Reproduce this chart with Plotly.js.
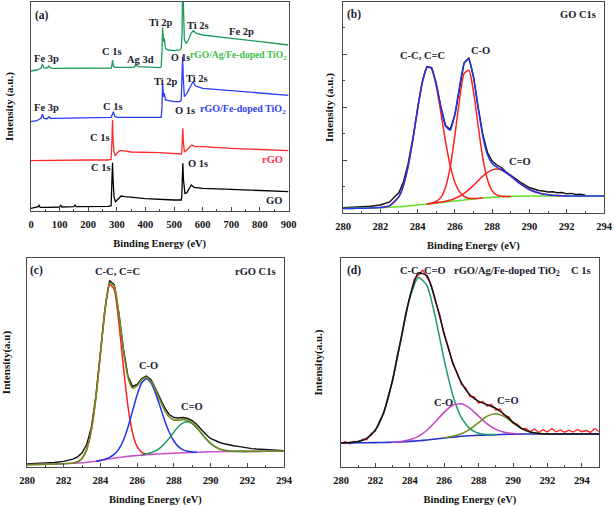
<!DOCTYPE html>
<html>
<head>
<meta charset="utf-8">
<script src="https://cdn.plot.ly/plotly-3.0.1.min.js"></script>
<style>html,body{margin:0;padding:0;background:#fff}#chart{width:614px;height:507px}</style>
</head>
<body>
<div id="chart"></div>
<script>
// ---------- Panel (a): XPS survey spectra ----------
const surveyGO_x = [0,10,25,28,32,60,100,104,108,150,154,158,200,270,280,283,285,287,290,295,300,315,330,400,500,525,527,529,530.5,533,538,545,555,560,570,600,700,800,900];
const surveyGO_y = [2.7,3.3,4.3,5.7,3.7,3.7,4.0,6.0,4.0,4.3,6.3,4.3,4.3,4.7,5.3,24.3,48.3,31.0,14.3,9.3,11.0,15.0,14.3,12.3,11.0,11.0,14.3,37.7,47.7,31.0,17.7,18.3,23.7,26.0,23.7,22.7,21.7,20.3,19.3];
const surveyRGO_x = [0,100,200,270,280,283,285,287,290,295,300,310,320,350,450,525,527,529,530.5,533,536,542,555,562,575,600,700,800,900];
const surveyRGO_y = [50.3,51.0,51.0,51.0,51.7,71.0,91.0,71.0,59.3,55.0,57.7,60.3,60.3,59.0,58.3,57.0,59.3,71.0,82.7,67.7,59.3,60.3,64.3,66.0,64.3,64.3,62.7,61.7,60.3];
const surveyFeTi_x = [0,20,35,40,45,55,63,68,80,150,280,285,288,292,300,400,455,458,460,463,466,470,480,500,520,525,528,530,532,536,545,555,566,575,590,600,700,800,900];
const surveyFeTi_y = [89.3,90.3,92.7,96.7,92.7,92.0,94.3,92.7,92.7,93.3,93.7,97.0,99.3,95.0,93.7,93.7,93.7,104.0,127.7,114.3,117.7,111.0,110.3,109.3,109.3,111.0,137.7,154.3,134.3,114.3,117.7,122.7,129.3,125.0,123.7,122.7,120.3,117.7,115.7];
const surveyAgFeTi_x = [0,20,35,40,45,55,63,68,80,200,280,283,285,288,292,360,365,368,372,375,450,455,458,460,463,466,470,480,500,520,525,528,530,532,536,542,550,560,567,578,600,700,800,900];
const surveyAgFeTi_y = [140.0,141.0,142.7,146.7,143.3,142.7,145.0,143.0,142.7,142.7,143.0,146.0,151.0,145.0,143.7,143.7,145.0,146.0,145.0,144.3,143.3,144.3,161.0,183.7,169.3,172.7,162.7,161.0,160.3,161.0,162.7,178.0,235.0,200.0,171.0,167.7,171.0,177.7,180.3,177.7,176.0,172.7,169.3,166.0];
const surveyNames = ['GO','rGO','rGO/Fe-doped TiO<sub>2</sub>','rGO/Ag/Fe-doped TiO<sub>2</sub>'];

// ---------- Panel (b): GO C1s ----------
const goC1s_x = [280,280.5,281,281.5,282,282.5,283,283.25,283.5,283.75,284,284.25,284.5,284.75,285,285.25,285.5,285.75,286,286.25,286.5,286.75,287,287.25,287.5,287.75,288,288.25,288.5,289,289.5,290,290.5,291,291.5,292,293,294];
const goC1s_bg = [4.5,4.6,4.8,5.0,5.3,5.7,6.2,6.6,7.0,7.5,8.0,8.5,9.0,9.5,10.0,10.5,11.0,11.5,12.0,12.5,13.0,13.5,14.0,14.5,15.0,15.4,15.7,16.0,16.2,16.6,16.8,17.0,17.0,17.0,17.0,17.0,17.0,17.0];
const goC1s_fit = [4.5,4.6,4.8,5.0,5.5,7.3,16.4,28.2,47.3,73.6,103.7,130.4,145.7,144.9,128.9,105.7,86.9,83.1,98.6,126.2,149.7,153.7,135.3,104.8,76.7,58.2,49.6,45.9,43.5,36.9,29.3,23.5,20.0,18.2,17.4,17.1,17.0,17.0];
const goRaw_x = [280,280.5,281,281.5,282,282.5,283,283.25,283.5,283.75,284,284.25,284.5,284.75,285,285.25,285.5,285.75,286,286.25,286.5,286.75,287,287.25,287.5,287.75,288,288.25,288.5,288.75,289,289.25,289.5,289.75,290,290.25,290.5,290.75,291,291.25,291.5,291.75,292,292.25,292.5,292.75,293];
const goRaw_y = [5.2,5.5,6.0,6.8,8.0,11.0,20.5,31.5,50.0,75.0,104.5,131.0,146.5,145.5,129.5,106.0,87.5,83.5,98.0,126.5,150.5,155.0,136.5,106.0,78.5,60.5,52.0,48.0,45.5,41.0,38.0,34.5,31.0,28.0,25.5,24.0,22.5,22.0,21.0,21.2,20.2,20.5,19.2,19.6,18.5,18.8,17.8];
const goCC_x = [282,282.5,283,283.25,283.5,283.75,284,284.25,284.5,284.75,285,285.25,285.5,285.75,286,286.25,286.5,286.75,287,287.5];
const goCC_y = [5.4,7.2,16.3,28.1,47.2,73.5,103.6,130.3,145.6,144.4,127.2,100.2,71.4,47.3,30.7,21.1,16.5,14.7,14.4,15.0];
const goCO_x = [284.5,284.75,285,285.25,285.5,285.75,286,286.25,286.5,286.75,287,287.25,287.5,287.75,288,288.25,288.5,289];
const goCO_y = [9.0,9.8,11.5,15.6,25.8,45.9,77.4,113.4,139.6,142.7,121.3,87.0,54.8,33.2,22.2,17.9,16.7,16.6];
const goCdO_x = [284.5,285,285.5,286,286.5,287,287.5,288,288.25,288.5,289,289.5,290,290.5,291,291.5,292];
const goCdO_y = [9.1,10.2,11.7,14.5,19.6,27.6,36.9,43.1,44.0,43.0,36.9,29.3,23.5,20.0,18.2,17.4,17.1];

// ---------- Panel (c): rGO C1s ----------
const rgoC1s_x = [280,280.5,281,281.5,282,282.5,282.75,283,283.25,283.5,283.75,284,284.25,284.5,284.75,285,285.25,285.5,285.75,286,286.25,286.5,286.75,287,287.25,287.5,287.75,288,288.25,288.5,288.75,289,289.25,289.5,289.75,290,290.5,291,292,293,294];
const rgoC1s_bg = [2.3,2.5,2.7,3.0,3.3,3.7,3.95,4.2,4.7,5.2,5.8,6.6,7.4,8.2,8.9,9.5,10.1,10.6,11.1,11.5,11.9,12.3,12.6,12.9,13.2,13.4,13.6,13.8,14.0,14.2,14.4,14.6,14.75,14.9,15.05,15.2,15.4,15.5,15.6,15.7,15.7];
const rgoC1s_fit = [2.3,2.5,2.7,3.0,3.3,4.0,5.2,8.5,17.4,36.3,69.0,113.5,157.6,184.0,181.2,153.3,117.0,89.7,78.9,81.1,87.3,89.6,85.7,77.1,66.5,56.7,50.0,47.1,46.9,47.2,46.6,44.0,39.4,33.7,28.2,23.5,17.9,16.0,15.6,15.7,15.7];
const rgoRaw_x = [280,280.5,281,281.5,282,282.5,282.75,283,283.25,283.5,283.75,284,284.25,284.5,284.75,285,285.25,285.5,285.75,286,286.25,286.5,286.75,287,287.25,287.5,287.75,288,288.25,288.5,288.75,289,289.25,289.5,289.75,290,290.25,290.5,290.75,291,291.25,291.5,291.75,292,292.25,292.5,292.75,293,293.25,293.5,293.75,294];
const rgoRaw_y = [3.0,3.3,3.8,4.5,5.6,7.8,10.0,14.2,22.5,39.0,70.5,114.0,158.5,186.5,182.5,154.5,118.5,91.0,80.5,82.5,88.5,91.0,87.5,78.5,68.5,59.0,52.5,49.5,49.0,49.5,48.5,46.5,42.5,37.0,32.5,28.5,26.2,24.5,23.2,22.0,21.3,20.6,19.7,19.2,18.4,18.0,17.6,17.2,16.9,16.6,16.5,16.3];
const rgoCC_x = [282.5,282.75,283,283.25,283.5,283.75,284,284.25,284.5,284.75,285,285.25,285.5,285.75,286,286.25,286.5];
const rgoCC_y = [4.0,5.15,8.5,17.4,36.3,69.0,113.4,157.1,182.5,177.5,144.9,100.4,60.6,34.1,20.3,14.7,13.0];
const rgoCO_x = [283.75,284,284.25,284.5,284.75,285,285.25,285.5,285.75,286,286.25,286.5,286.75,287,287.25,287.5,287.75,288,288.25,288.5,288.75,289,289.25];
const rgoCO_y = [5.8,6.6,7.9,9.7,12.6,17.9,26.7,39.7,55.9,72.2,84.2,88.2,84.1,73.9,60.5,46.6,34.7,26.0,20.4,17.2,15.7,15.1,14.8];
const rgoCdO_x = [286.25,286.5,286.75,287,287.25,287.5,287.75,288,288.25,288.5,288.75,289,289.25,289.5,289.75,290,290.5,291,292];
const rgoCdO_y = [12.2,13.0,14.2,16.1,19.2,23.5,28.9,34.9,40.5,44.2,45.3,43.5,39.25,33.7,28.15,23.5,17.9,16.0,15.6];

// ---------- Panel (d): rGO/Ag/Fe-doped TiO2 C 1s ----------
const agC1s_x = [280,280.5,281,281.5,282,282.5,283,283.5,284,284.5,285,285.5,286,286.5,287,287.5,288,288.5,289,289.5,290,290.5,291,291.5,292,293,294,295];
const agC1s_bg = [24.0,24.1,24.2,24.3,24.4,24.5,24.7,25.1,25.6,26.2,27.0,28.0,29.0,29.9,30.7,31.3,31.7,32.0,32.3,32.6,32.8,32.9,33.0,33.0,33.0,33.0,33.0,33.0];
const agC1s_fit = [24.0,24.4,25.4,28.6,37.1,55.5,87.1,129.4,170.4,194.1,191.1,166.1,133.3,104.5,84.4,72.1,65.6,62.4,58.7,52.5,44.9,38.6,35.0,33.6,33.1,33.0,33.0,33.0];
const agRaw_x = [280,280.25,280.5,280.75,281,281.25,281.5,281.75,282,282.25,282.5,282.75,283,283.25,283.5,283.75,284,284.25,284.5,284.75,285,285.25,285.5,285.75,286,286.25,286.5,286.75,287,287.25,287.5,287.75,288,288.25,288.5,288.75,289,289.25,289.5,289.75,290,290.25,290.5,290.75,291,291.25,291.5,291.75,292,292.25,292.5,292.75,293,293.25,293.5,293.75,294,294.25,294.5,294.75,295];
const agRaw_y = [23.5,25.5,23.0,25.8,24.6,27.9,27.2,33.5,36.0,46.8,54.0,71.8,86.0,110.2,127.5,153.2,168.8,187.5,192.0,197.0,189.5,182.0,164.5,151.8,131.5,119.6,102.8,94.8,82.6,79.2,70.5,70.4,63.9,65.5,60.8,62.8,57.0,58.0,51.0,50.5,43.5,43.0,38.2,38.5,35.5,38.0,34.5,37.2,35.0,38.5,35.2,37.0,34.8,36.8,35.0,37.5,35.3,36.5,34.6,38.5,35.5];
const agCC_x = [280.5,281,281.5,282,282.5,283,283.5,284,284.5,285,285.5,286,286.5,287,287.5,288,288.5,289];
const agCC_y = [24.4,25.4,28.6,37.1,55.5,87.0,128.9,168.7,189.6,181.4,148.7,107.2,71.8,49.3,38.1,33.8,32.5,32.4];
const agCO_x = [283,283.5,284,284.5,285,285.5,286,286.5,287,287.5,288,288.5,289,289.5,290,290.5];
const agCO_y = [24.8,25.6,27.3,30.7,36.7,45.4,54.9,61.8,63.2,58.7,50.8,43.1,37.6,34.7,33.5,33.1];
const agCdO_x = [286,286.5,287,287.5,288,288.5,289,289.5,290,290.5,291,291.5,292];
const agCdO_y = [29.2,30.7,33.3,37.9,44.4,50.8,53.3,50.4,44.2,38.4,35.0,33.6,33.1];

// ---------- styling / layout ----------
const W = 614, H = 507;
const FONT = 'Liberation Serif';
const TXT = '#1a1a2e';
function px(x){return x/W;}
function py(y){return 1 - y/H;}

const traces = [];
function line(x, y, color, xa, ya, width, shape){
  traces.push({x:x, y:y, type:'scatter', mode:'lines', xaxis:xa, yaxis:ya, showlegend:false, hoverinfo:'skip',
    line:{color:color, width:width||1.4, shape:shape||'spline', smoothing:0.6}});
}
// (a)
line(surveyGO_x, surveyGO_y, '#000000', 'x', 'y', 1.3, 'linear');
line(surveyRGO_x, surveyRGO_y, '#ff2a2a', 'x', 'y', 1.3, 'linear');
line(surveyFeTi_x, surveyFeTi_y, '#2b3cf0', 'x', 'y', 1.3, 'linear');
line(surveyAgFeTi_x, surveyAgFeTi_y, '#1e9a5e', 'x', 'y', 1.3, 'linear');
// (b)
line(goRaw_x, goRaw_y, '#111111', 'x2', 'y2', 1.4, 'linear');
line(goC1s_x, goC1s_bg, '#66dd22', 'x2', 'y2', 1.6);
line(goCC_x, goCC_y, '#ff2020', 'x2', 'y2', 1.5);
line(goCO_x, goCO_y, '#ff2020', 'x2', 'y2', 1.5);
line(goCdO_x, goCdO_y, '#ff2020', 'x2', 'y2', 1.5);
line(goC1s_x, goC1s_fit, '#2233ee', 'x2', 'y2', 1.5);
// (c)
line(rgoRaw_x, rgoRaw_y, '#111111', 'x3', 'y3', 1.4, 'linear');
line(rgoC1s_x, rgoC1s_bg, '#cc55cc', 'x3', 'y3', 1.6);
line(rgoCC_x, rgoCC_y, '#ff2020', 'x3', 'y3', 1.5);
line(rgoCO_x, rgoCO_y, '#2233ee', 'x3', 'y3', 1.5);
line(rgoCdO_x, rgoCdO_y, '#1e9a5e', 'x3', 'y3', 1.5);
line(rgoC1s_x, rgoC1s_fit, '#6e8b1e', 'x3', 'y3', 1.6);
// (d)
line(agRaw_x, agRaw_y, '#ff2020', 'x4', 'y4', 1.3, 'linear');
line(agC1s_x, agC1s_bg, '#2233cc', 'x4', 'y4', 1.6);
line(agCC_x, agCC_y, '#1e9a6e', 'x4', 'y4', 1.5);
line(agCO_x, agCO_y, '#c044c8', 'x4', 'y4', 1.5);
line(agCdO_x, agCdO_y, '#6e8b1e', 'x4', 'y4', 1.5);
line(agC1s_x, agC1s_fit, '#111111', 'x4', 'y4', 1.5);

const tickF = {family:FONT, size:10.5, color:'#111', weight:'bold'};
const titleF = {family:FONT, size:10.5, color:'#111', weight:'bold'};
const ytitleF = {family:FONT, size:11, color:'#111', weight:'bold'};
function xax(dom, anchor, range, dtick, minor){
  return {domain:dom, anchor:anchor, range:range, dtick:dtick, tick0:range[0], showgrid:false, zeroline:false,
    showline:true, mirror:true, linecolor:'#4a4a4a', linewidth:1.3, ticks:'inside', ticklen:4, tickwidth:1, tickcolor:'#4a4a4a',
    ticklabelstandoff:3,
    minor:{dtick:minor, tick0:range[0], ticks:'inside', ticklen:2, tickcolor:'#4a4a4a'},
    tickfont:tickF, title:{text:'Binding Energy (eV)', font:titleF, standoff:10}};
}
function yax(dom, anchor, range, title, standoff, ticks){
  const o = {domain:dom, anchor:anchor, range:range, showgrid:false, zeroline:false, showticklabels:false,
    showline:true, mirror:true, linecolor:'#4a4a4a', linewidth:1.3, ticks:'',
    title:{text:title, font:ytitleF, standoff:standoff}};
  if (ticks){ Object.assign(o, {ticks:'inside', tick0:0, dtick:53, ticklen:4, tickcolor:'#4a4a4a',
    minor:{tick0:0, dtick:26.5, ticks:'inside', ticklen:2, tickcolor:'#4a4a4a'}}); }
  return o;
}

function ann(text, x, y, opts){
  return Object.assign({text:text, x:px(x), y:py(y), xref:'paper', yref:'paper', showarrow:false,
    xanchor:'center', yanchor:'middle', font:{family:FONT, size:10.5, color:TXT, weight:'bold'}}, opts||{});
}
function col(c, s){return {font:{family:FONT, size:s||10.5, color:c, weight:'bold'}};}
const big = {family:FONT, size:11.5, color:TXT, weight:'bold'};
const annotations = [
  ann('(a)', 33, 15, {xanchor:'left', font:big}),
  ann('Fe 3p', 46, 58), ann('C 1s', 112, 52), ann('Ag 3d', 140, 60), ann('Ti 2p', 161, 22),
  ann('Ti 2s', 198, 25), ann('Fe 2p', 241, 32),
  ann('O 1s', 180, 57, {font:{family:FONT, size:10, color:TXT, weight:'bold'}}),
  ann(surveyNames[3], 289, 55, Object.assign({xanchor:'right'}, col('#3cbf4a', 9.6))),
  ann('Fe 3p', 46, 108), ann('C 1s', 113, 107), ann('Ti 2p', 166, 82), ann('Ti 2s', 197, 78), ann('O 1s', 185, 110),
  ann(surveyNames[2], 288, 109, Object.assign({xanchor:'right'}, col('#3344ee', 10))),
  ann('C 1s', 100, 137),
  ann(surveyNames[1], 285, 159, Object.assign({xanchor:'right'}, col('#ff3050'))),
  ann('O 1s', 198, 163), ann('C 1s', 101, 167),
  ann(surveyNames[0], 284, 200, {xanchor:'right'}),
  ann('(b)', 345, 14, {xanchor:'left', font:big}),
  ann('GO C1s', 598, 14, {xanchor:'right'}),
  ann('C-C, C=C', 422, 55), ann('C-O', 480, 50), ann('C=O', 520, 161),
  ann('(c)', 28, 270, {xanchor:'left', font:big}),
  ann('C-C, C=C', 117, 271), ann('rGO C1s', 278, 271, {xanchor:'right'}),
  ann('C-O', 148, 365), ann('C=O', 192, 406),
  ann('(d)', 345, 270, {xanchor:'left', font:big}),
  ann('C-C, C=O', 423, 270), ann('rGO/Ag/Fe-doped TiO<sub>2</sub>', 507, 271), ann('C 1s', 593, 270, {xanchor:'right'}),
  ann('C-O', 443, 402), ann('C=O', 508, 400)
];

const layout = {
  width:W, height:H, margin:{l:0,r:0,t:0,b:0}, paper_bgcolor:'#fff', plot_bgcolor:'#fff', showlegend:false,
  font:{family:FONT},
  xaxis: xax([px(31), px(288.5)], 'y', [0,900], 100, 50),
  yaxis: yax([py(211), py(2)], 'x', [0,209], 'Intensity (a.u.)', 14, false),
  xaxis2: xax([px(343), px(604)], 'y2', [280,294], 2, 1),
  yaxis2: yax([py(213), py(2)], 'x2', [0,211], 'Intensity (a.u.)', 6, true),
  xaxis3: xax([px(27), px(284)], 'y3', [280,294], 2, 1),
  yaxis3: yax([py(467), py(258)], 'x3', [0,209], 'Intensity(a.u)', 16, false),
  xaxis4: xax([px(341), px(599)], 'y4', [280,295], 2, 1),
  yaxis4: yax([py(467), py(258)], 'x4', [0,209], 'Intensity(a.u.)', 15, false),
  annotations: annotations
};
Plotly.newPlot('chart', traces, layout, {staticPlot:true, displayModeBar:false});
</script>
</body>
</html>
